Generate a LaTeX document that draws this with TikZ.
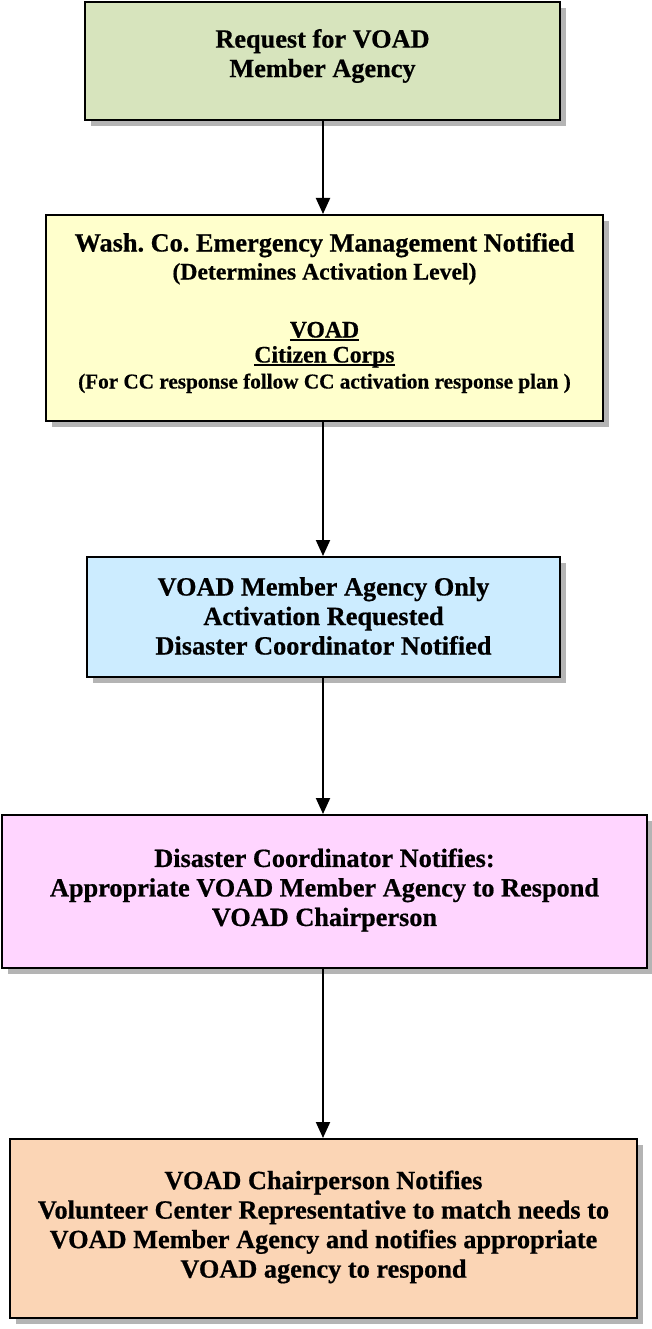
\documentclass[tikz,border=0pt]{standalone}
\usepackage{fontspec}
\setmainfont{Liberation Serif}[BoldFeatures={FakeBold=0.6}]
\usetikzlibrary{arrows.meta,shadows}
\definecolor{cgreen}{HTML}{D7E4BD}
\definecolor{cyellow}{HTML}{FFFFCC}
\definecolor{cblue}{HTML}{CCECFF}
\definecolor{cpink}{HTML}{FFD5FF}
\definecolor{corange}{HTML}{FBD5B5}
\definecolor{shadowgray}{HTML}{B4B4B4}
\frenchspacing
\newcommand\myuline[1]{\setbox0\hbox{#1}\rlap{\rule[-3pt]{\wd0}{1.5pt}}\box0}
\tikzset{
  box/.style={draw=black, line width=2pt, rectangle, inner sep=0pt,
    drop shadow={shadow xshift=6pt, shadow yshift=-6pt, fill=shadowgray, opacity=1}},
  txt/.style={align=center, inner sep=0pt, font=\bfseries\fontsize{26.3}{29.5}\selectfont},
  arr/.style={line width=2pt, -{Triangle[length=16pt,width=14pt]}}
}
\begin{document}
\begin{tikzpicture}[x=1pt,y=1pt]
\useasboundingbox (0,0) rectangle (651,-1329);
\fill[white] (0,0) rectangle (651,-1329);
\node[box, fill=cgreen, minimum width=475pt, minimum height=118pt] (b1) at (322.5,-61) {};
\node[box, fill=cyellow, minimum width=557pt, minimum height=206pt] (b2) at (324.5,-318) {};
\node[box, fill=cblue, minimum width=473pt, minimum height=120pt] (b3) at (323.5,-617) {};
\node[box, fill=cpink, minimum width=645pt, minimum height=153pt] (b4) at (324.5,-891.5) {};
\node[box, fill=corange, minimum width=627pt, minimum height=179pt] (b5) at (323.5,-1228.5) {};
\node[txt] (t1) at (322.5,-56) {Request for VOAD\\Member Agency};
\node[txt] (t2) at (324.5,-313) {Wash. Co. Emergency Management Notified\\[-1.5pt]
  {\fontsize{23.7}{26}\selectfont (Determines Activation Level)}\\[28.5pt]
  {\fontsize{23.7}{26}\selectfont \myuline{VOAD}}\\[-4.5pt]
  {\fontsize{23.7}{26}\selectfont \myuline{Citizen Corps}}\\[-3.5pt]
  {\fontsize{21.2}{23}\selectfont (For CC response follow CC activation response plan )}};
\node[txt] (t3) at (323.5,-616) {VOAD Member Agency Only\\Activation Requested\\Disaster Coordinator Notified};
\node[txt] (t4) at (324.5,-890) {Disaster Coordinator Notifies:\\Appropriate VOAD Member Agency to Respond\\VOAD Chairperson};
\node[txt] (t5) at (323.5,-1227) {VOAD Chairperson Notifies\\Volunteer Center Representative to match needs to\\VOAD Member Agency and notifies appropriate\\VOAD agency to respond};
\coordinate (ax) at (323,0);
\draw[arr] (b1.south -| ax) -- (b2.north -| ax);
\draw[arr] (b2.south -| ax) -- (b3.north -| ax);
\draw[arr] (b3.south -| ax) -- (b4.north -| ax);
\draw[arr] (b4.south -| ax) -- (b5.north -| ax);
\end{tikzpicture}
\end{document}
